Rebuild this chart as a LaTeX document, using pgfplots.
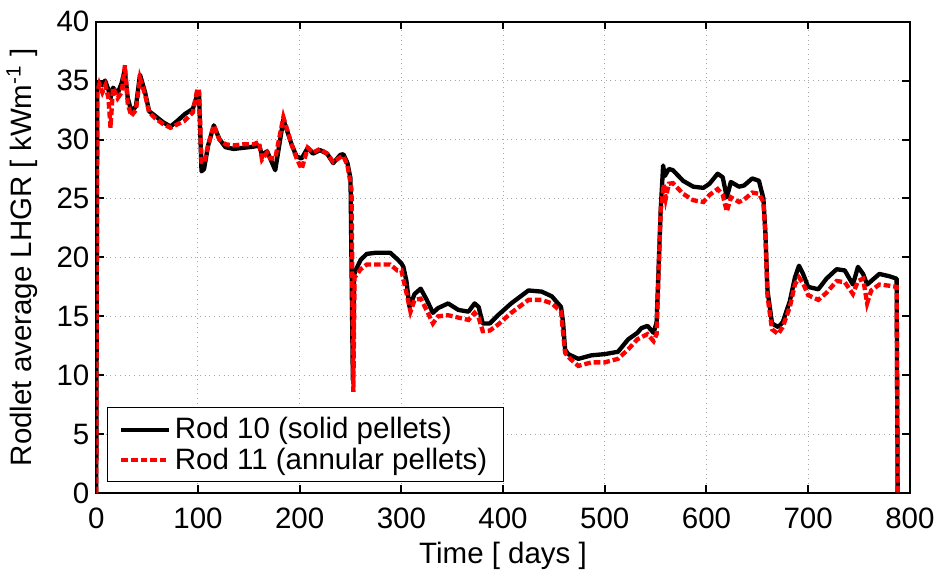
\documentclass[border=0pt]{standalone}
\usepackage{pgfplots}
\pgfplotsset{compat=1.18}
\usepackage{fontspec}
\setmainfont{Liberation Sans}
\pgfplotstableread{
x y
0 0
1 34.5
3 34.8
6 34.6
8.7 35.0
12 34.2
14 33.5
16.5 34.4
21 33.9
25 34.8
28 35.9
31 33.5
34.5 32.4
39 32.8
43 35.5
48 34.0
52 32.4
58 32.0
66 31.45
73 31.1
80 31.6
87 32.15
95 32.6
99 33.7
101 34.0
103.5 27.3
106 27.5
110 29.5
115.6 31.2
121 30.05
127 29.35
135 29.2
145 29.3
155 29.4
160 29.5
163 28.7
168 29.0
176 27.4
184 31.7
192 29.6
197 28.55
202 28.4
208 29.3
213 28.8
220 29.1
227 28.8
233 28.0
240 28.7
243 28.75
247 28.0
250 26.7
252.3 9.6
253.5 18.5
255 18.9
260 19.8
266 20.3
275 20.4
289 20.4
296 19.85
300 19.5
302 19.2
305 18.0
308 15.8
313 16.9
319 17.35
325 16.4
331 15.3
336 15.7
346 16.1
356 15.55
366 15.4
372 16.1
376 15.8
380 14.4
387 14.4
395 15.1
408 16.1
425 17.2
438 17.1
448 16.7
457 15.8
459 14.5
461 12.2
464 11.8
474 11.4
487 11.7
500 11.8
513 12.0
523 13.05
532 13.6
536 14.0
542 14.2
548 13.6
551 14.5
555 24
557.4 27.8
559 26.9
563 27.5
567 27.4
577 26.5
587 26.0
597 25.9
603 26.25
611 27.1
616 26.8
620 25.1
624 26.4
632 26.0
637 26.1
645 26.7
651.6 26.5
656 25.0
658 22
660 17.2
664.5 14.4
670.5 14.1
675 14.5
682 16.3
687 18.3
691 19.3
695 18.6
700 17.5
710 17.3
718 18.2
728 19.0
736 18.9
744 17.7
749 19.2
754 18.6
758 17.7
762 18.0
770 18.6
780 18.4
787 18.2
788 0
}\rodten
\pgfplotstableread{
x y
0 0
1 34.0
3 34.7
6 34.0
9 34.6
12 33.5
14 31.0
16.5 34.4
21 33.5
25 34.0
28.2 36.3
31 33.0
34.5 32.0
39 32.5
43 35.2
48 33.8
52 32.3
58 31.8
66 31.3
73 31.0
80 31.3
87 31.6
95 32.3
99 34.1
101 34.3
103.5 28.1
106 28.0
110 29.5
115.6 31.2
121 30.0
127 29.6
135 29.5
145 29.6
155 29.6
160 29.8
163 28.3
168 28.9
171 28.4
176 28.4
184 31.9
192 29.6
197 28.4
202 27.5
208 29.3
213 28.9
220 29.2
227 28.8
233 28.1
240 28.5
243 28.6
247 27.8
251 25.8
252.8 8.6
254 18.3
260 19.0
266 19.4
275 19.4
289 19.4
296 18.9
300 18.9
305 17.0
309 15.4
313 16.4
319 16.5
325 15.5
331 14.4
336 15.0
346 15.1
356 14.9
366 14.7
372 15.3
376 14.9
380 13.75
387 13.8
395 14.3
408 15.3
425 16.4
438 16.4
448 16.1
457 15.4
461 11.9
466 11.4
474 10.8
487 11.1
500 11.1
513 11.4
523 12.2
532 13.05
542 13.5
548 12.9
551 13.5
555 24
558 26.2
560 25.0
563 26.25
567 26.3
577 25.4
587 24.85
597 24.7
603 25.3
611 25.8
616 25.3
620 23.9
624 25.1
632 24.7
637 24.9
645 25.5
651.6 25.4
656 24.7
658 22
660 16.7
664.5 13.9
670.5 13.5
675 14.1
682 15.8
687 17.7
691 18.3
695 17.8
700 16.8
710 16.4
718 17.0
728 18.0
736 17.9
744 16.9
749 18.0
754 18.2
758 16.1
762 17.2
770 17.7
780 17.6
787 17.5
788 0
}\rodeleven
\begin{document}
\begin{tikzpicture}
\begin{axis}[
  scale only axis,
  width=414pt, height=240pt,
  xmin=0, xmax=800, ymin=0, ymax=40,
  xtick={0,100,...,800}, ytick={0,5,...,40},
  /pgf/number format/assume math mode=true,
  tick label style={font=\fontsize{15}{17}\selectfont},
  xticklabel style={yshift=-4pt},
  label style={font=\fontsize{15}{17}\selectfont},
  xlabel={Time [ days ]},
  ylabel={Rodlet average LHGR [ kWm\textsuperscript{-1} ]},
  xlabel style={yshift=0pt},
  ylabel style={yshift=3pt},
  grid=major,
  major grid style={gray!70, dotted, line width=0.5pt},
  axis line style={black, line width=1pt},
  tick style={black, line width=1pt},
  major tick length=4pt,
  tick align=inside,
  xtick pos=both, ytick pos=both,
  legend style={at={(0.013,0.023)}, anchor=south west, draw=black, line width=0.5pt,
    font=\fontsize{15}{17}\selectfont, inner xsep=6pt, inner ysep=3pt, row sep=-1pt},
  legend cell align=left,
  legend image code/.code={\draw[#1] (0cm,0cm) -- (0.85cm,0cm);},
]
\addplot[black, line width=2.2pt, line join=round] table[x=x,y=y] {\rodten};
\addlegendentry{Rod 10 (solid pellets)}
\addplot[red, line width=2.2pt, dash pattern=on 3.4pt off 1.5pt] table[x=x,y=y] {\rodeleven};
\addlegendentry{Rod 11 (annular pellets)}
\end{axis}
\path ([yshift=11pt]current axis.north west);
\end{tikzpicture}
\end{document}
